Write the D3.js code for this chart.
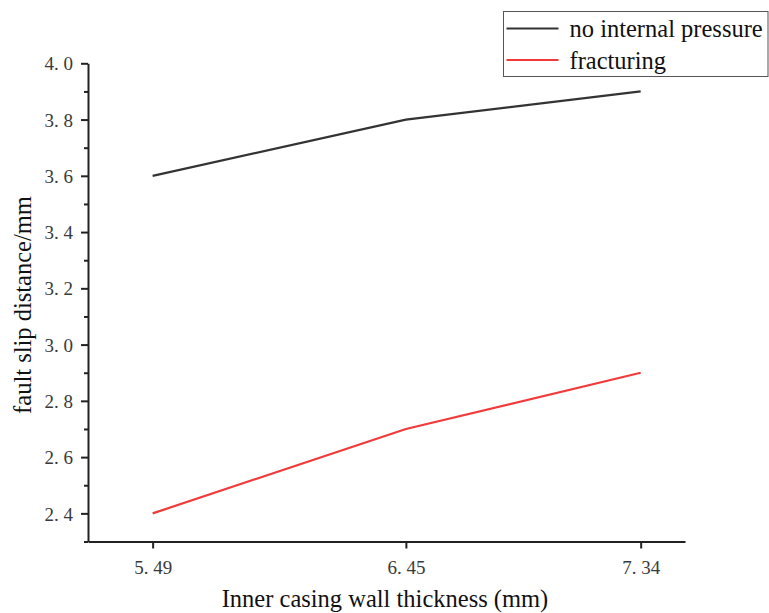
<!DOCTYPE html>
<html>
<head>
<meta charset="utf-8">
<script src="https://cdn.jsdelivr.net/npm/d3@7"></script>
<style>
  body { margin: 0; background: #fff; }
  .tick text { font-family: "Liberation Serif", serif; font-size: 19px; fill: #3a3a3a; }
  .axis path, .axis line { stroke: #222; stroke-width: 2px; }
  .axis-title, .legend-text { font-family: "Liberation Serif", "Times New Roman", serif; fill: #111; }
</style>
</head>
<body>
<div id="chart"></div>
<script>
var thickness = [5.49, 6.45, 7.34];
var noPressure = [3.6, 3.8, 3.9];
var fracturing = [2.4, 2.7, 2.9];
var yTicks = [2.4, 2.6, 2.8, 3.0, 3.2, 3.4, 3.6, 3.8, 4.0];
var yMinorTicks = [2.3, 2.5, 2.7, 2.9, 3.1, 3.3, 3.5, 3.7, 3.9];

var series = [
  {name: "no internal pressure", values: noPressure, color: "#333333"},
  {name: "fracturing", values: fracturing, color: "#f23a3a"}
];

var width = 769, height = 613;
var margin = {left: 88, right: 84, top: 63.3, bottom: 71.5};

var svg = d3.select("#chart").append("svg")
    .attr("width", width)
    .attr("height", height);

var x = d3.scaleLinear()
    .domain([5.245, 7.508])
    .range([margin.left, width - margin.right]);

var y = d3.scaleLinear()
    .domain([2.3, 4.0])
    .range([height - margin.bottom, margin.top]);

// minor ticks first so the major axis draws on top
svg.append("g")
    .attr("class", "axis")
    .attr("transform", "translate(" + margin.left + ",0)")
    .call(d3.axisLeft(y).tickValues(yMinorTicks).tickSize(4).tickFormat(""))
    .select(".domain").remove();

svg.append("g")
    .attr("class", "axis")
    .attr("transform", "translate(" + margin.left + ",0)")
    .call(d3.axisLeft(y).tickValues(yTicks).tickSize(7).tickSizeOuter(0).tickPadding(8)
      .tickFormat(function(d){ return d3.format(".1f")(d).replace(".", ". "); }))
    .selectAll(".tick text").attr("dy", "0.35em");

svg.append("g")
    .attr("class", "axis")
    .attr("transform", "translate(0," + (height - margin.bottom) + ")")
    .call(d3.axisBottom(x).tickValues(thickness).tickSize(7).tickSizeOuter(0).tickPadding(12)
      .tickFormat(function(d){ return d3.format(".2f")(d).replace(".", ". "); }));

var line = d3.line()
    .x(function(d, i){ return x(thickness[i]); })
    .y(function(d){ return y(d); });

svg.selectAll(".series")
    .data(series)
  .enter().append("path")
    .attr("class", "series")
    .attr("fill", "none")
    .attr("stroke", function(d){ return d.color; })
    .attr("stroke-width", 2.2)
    .attr("d", function(d){ return line(d.values); });

// axis titles
svg.append("text")
    .attr("class", "axis-title")
    .attr("x", 385)
    .attr("y", 607)
    .attr("text-anchor", "middle")
    .style("font-size", "24.5px")
    .text("Inner casing wall thickness (mm)");

svg.append("text")
    .attr("class", "axis-title")
    .attr("transform", "translate(31,305) rotate(-90)")
    .attr("text-anchor", "middle")
    .style("font-size", "24.5px")
    .text("fault slip distance/mm");

// legend
var legend = svg.append("g")
    .attr("transform", "translate(503.5,11.5)");

legend.append("rect")
    .attr("width", 264.5)
    .attr("height", 65)
    .attr("fill", "#fff")
    .attr("stroke", "#555")
    .attr("stroke-width", 1);

var item = legend.selectAll(".legend-item")
    .data(series)
  .enter().append("g")
    .attr("class", "legend-item")
    .attr("transform", function(d, i){ return "translate(0," + (17 + i * 31.5) + ")"; });

item.append("line")
    .attr("x1", 3)
    .attr("x2", 55)
    .attr("stroke", function(d){ return d.color; })
    .attr("stroke-width", 2);

item.append("text")
    .attr("class", "legend-text")
    .attr("x", 66)
    .attr("dy", "0.35em")
    .style("font-size", "24.5px")
    .text(function(d){ return d.name; });
</script>
</body>
</html>
